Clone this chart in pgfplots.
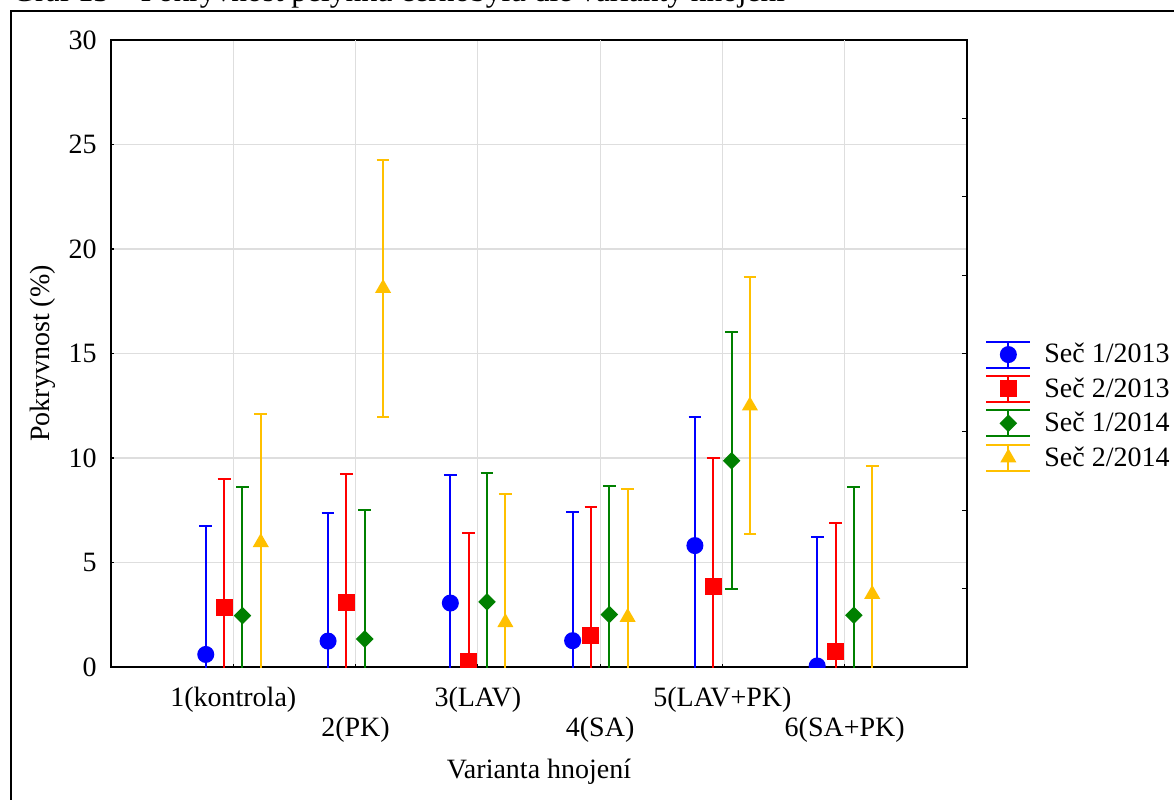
\documentclass[border=0pt]{standalone}
\usepackage{fontspec}
\setmainfont{Liberation Serif}
\usepackage{pgfplots}
\pgfplotsset{compat=1.18}

\definecolor{cblue}{RGB}{0,0,255}
\definecolor{cred}{RGB}{255,0,0}
\definecolor{cgreen}{RGB}{0,128,0}
\definecolor{cgold}{RGB}{255,192,0}

\pgfplotsset{
  errs/.style={error bars/.cd, y dir=both, y explicit,
    error bar style={line width=1pt, #1},
    error mark options={rotate=90, mark size=3.2pt, line width=1pt, #1}},
}

\begin{document}
\begin{tikzpicture}[x=1pt,y=1pt]
% the page is the clip window
\clip (0,0) rectangle (587,399.5);
% outer frame and caption
\draw[line width=1pt] (5.5,-10) rectangle (600,394.2);
\node[anchor=base west, inner sep=0pt, font=\fontsize{15.7}{18}\selectfont]
  at (6,398.5) {Graf 13 – Pokryvnost pelyňku černobýlu dle varianty hnojení};

\begin{axis}[
  at={(55.5pt,66pt)}, anchor=south west,
  scale only axis, width=428pt, height=313.5pt,
  xmin=0, xmax=7, ymin=0, ymax=30,
  font=\fontsize{14}{16.8}\selectfont,
  /pgf/number format/assume math mode=true,
  ytick={0,5,...,30},
  xtick={1,3,5}, xticklabels={1(kontrola),3(LAV),5(LAV+PK)},
  extra x ticks={2,4,6}, extra x tick labels={2(PK),4(SA),6(SA+PK)},
  extra x tick style={grid=major, xticklabel style={yshift=-15pt}},
  xticklabel style={anchor=base, inner sep=0pt, yshift=-19.5pt},
  yticklabel style={inner sep=0pt, xshift=-7pt},
  xtick pos=lower, ytick pos=left,
  tick align=inside, major tick length=1.5pt,
  tick style={black, line width=0.6pt},
  grid=major, major grid style={black!13, line width=0.6pt},
  axis line style={line width=1pt},
  clip marker paths=true,
  xlabel={Varianta hnojení}, ylabel={Pokryvnost (\%)},
  xlabel style={at={(axis description cs:0.5,-0.1786)}, anchor=base, inner sep=0pt},
  ylabel style={at={(axis description cs:-0.0713,0.5)}, anchor=base, inner sep=0pt},
  legend style={draw=none, fill=none, at={(axis description cs:1.021,0.416)},
    anchor=west, inner sep=0pt, row sep=3.2pt, column sep=6.5pt,
    nodes={inner sep=0pt}},
  legend cell align=left,
  legend image code/.code={%
    \draw[#1, mark=none] (0pt,-6.5pt) -- (22pt,-6.5pt);
    \draw[#1, mark=none] (0pt,6.5pt) -- (22pt,6.5pt);
    \draw[#1, mark=none] (11pt,-6.5pt) -- (11pt,6.5pt);
    \draw[#1] plot coordinates {(11pt,0pt)};
  },
]
% Seč 1/2013
\addplot[only marks, color=cblue, line width=1pt, mark=*, mark size=3.75pt, errs=cblue]
  coordinates {(0.775,0.60) +- (0,6.15) (1.775,1.24) +- (0,6.15) (2.775,3.06) +- (0,6.15)
               (3.775,1.26) +- (0,6.15) (4.775,5.81) +- (0,6.15) (5.775,0.05) +- (0,6.15)};
\addlegendentry{Seč 1/2013}
% Seč 2/2013
\addplot[only marks, color=cred, line width=1pt, mark=square*, mark size=3.75pt, errs=cred]
  coordinates {(0.925,2.86) +- (0,6.15) (1.925,3.10) +- (0,6.15) (2.925,0.26) +- (0,6.15)
               (3.925,1.50) +- (0,6.15) (4.925,3.86) +- (0,6.15) (5.925,0.74) +- (0,6.15)};
\addlegendentry{Seč 2/2013}
% Seč 1/2014
\addplot[only marks, color=cgreen, line width=1pt, mark=square*, mark size=2.6pt,
  mark options={rotate=45}, errs=cgreen]
  coordinates {(1.075,2.46) +- (0,6.15) (2.075,1.34) +- (0,6.15) (3.075,3.12) +- (0,6.15)
               (4.075,2.51) +- (0,6.15) (5.075,9.87) +- (0,6.15) (6.075,2.48) +- (0,6.15)};
\addlegendentry{Seč 1/2014}
% Seč 2/2014
\addplot[only marks, color=cgold, line width=1pt, mark=triangle*, mark size=3.67pt, errs=cgold]
  coordinates {(1.225,5.96) +- (0,6.15) (2.225,18.12) +- (0,6.15) (3.225,2.13) +- (0,6.15)
               (4.225,2.38) +- (0,6.15) (5.225,12.50) +- (0,6.15) (6.225,3.48) +- (0,6.15)};
\addlegendentry{Seč 2/2014}
\end{axis}

% right-hand axis with its own tick spacing
\begin{axis}[
  at={(55.5pt,66pt)}, anchor=south west,
  scale only axis, width=428pt, height=313.5pt,
  xmin=0, xmax=7, ymin=0, ymax=30,
  hide x axis, axis y line*=right,
  ytick={3.75,7.5,11.25,15,18.75,22.5,26.25}, yticklabels={},
  tick align=inside, major tick length=2.5pt,
  tick style={black, line width=0.6pt},
  axis line style={line width=1pt},
]
\addplot[draw=none] coordinates {(0,0)};
\end{axis}
\end{tikzpicture}
\end{document}
